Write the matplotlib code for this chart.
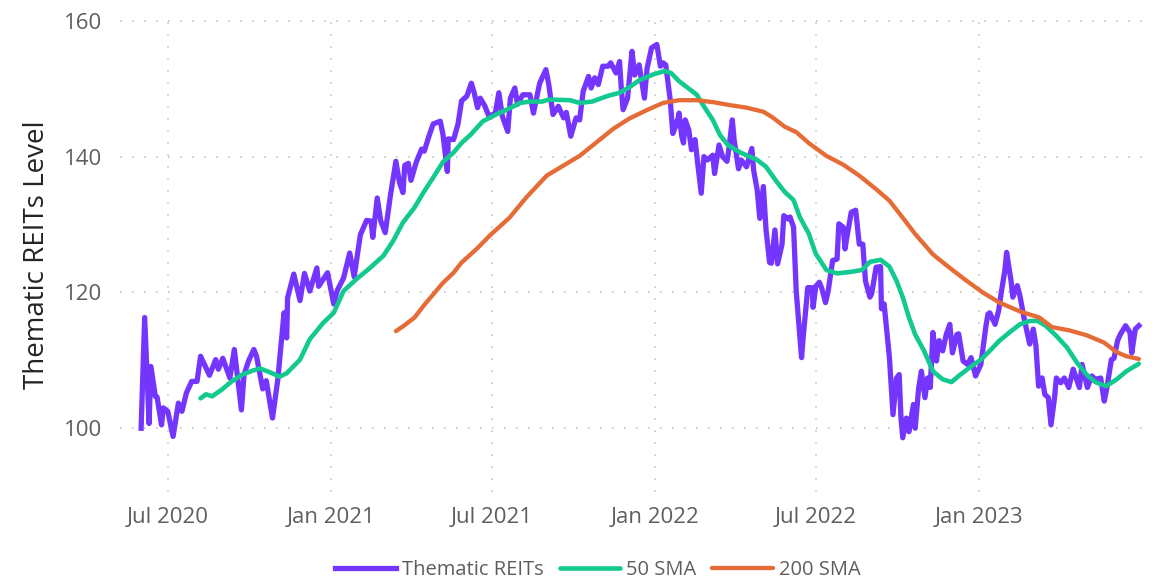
import matplotlib
matplotlib.use("Agg")
import matplotlib.pyplot as plt
import pandas as pd

# index level
reit_dates = [
    "2020-06-01", "2020-06-05", "2020-06-10", "2020-06-12", "2020-06-17", "2020-06-19",
    "2020-06-24", "2020-06-26", "2020-07-01", "2020-07-07", "2020-07-13", "2020-07-17",
    "2020-07-22", "2020-07-28", "2020-08-03", "2020-08-07", "2020-08-17", "2020-08-24",
    "2020-08-27", "2020-09-01", "2020-09-09", "2020-09-14", "2020-09-22", "2020-09-25",
    "2020-09-30", "2020-10-06", "2020-10-09", "2020-10-16", "2020-10-20", "2020-10-27",
    "2020-11-02", "2020-11-09", "2020-11-12", "2020-11-13", "2020-11-20", "2020-11-27",
    "2020-12-02", "2020-12-08", "2020-12-16", "2020-12-18", "2020-12-28", "2021-01-04",
    "2021-01-08", "2021-01-15", "2021-01-22", "2021-01-27", "2021-02-03", "2021-02-10",
    "2021-02-15", "2021-02-17", "2021-02-22", "2021-02-26", "2021-03-03", "2021-03-09",
    "2021-03-15", "2021-03-19", "2021-03-23", "2021-03-25", "2021-03-29", "2021-04-01",
    "2021-04-07", "2021-04-13", "2021-04-16", "2021-04-21", "2021-04-26", "2021-05-04",
    "2021-05-07", "2021-05-12", "2021-05-13", "2021-05-19", "2021-05-24", "2021-05-28",
    "2021-06-03", "2021-06-08", "2021-06-11", "2021-06-15", "2021-06-18", "2021-06-23",
    "2021-06-28", "2021-07-05", "2021-07-09", "2021-07-13", "2021-07-19", "2021-07-22",
    "2021-07-27", "2021-07-30", "2021-08-05", "2021-08-13", "2021-08-17", "2021-08-24",
    "2021-08-31", "2021-09-03", "2021-09-08", "2021-09-14", "2021-09-20", "2021-09-23",
    "2021-09-28", "2021-10-04", "2021-10-08", "2021-10-12", "2021-10-18", "2021-10-21",
    "2021-10-25", "2021-10-29", "2021-11-03", "2021-11-09", "2021-11-12", "2021-11-18",
    "2021-11-22", "2021-11-24", "2021-11-26", "2021-12-01", "2021-12-06", "2021-12-09",
    "2021-12-14", "2021-12-20", "2021-12-23", "2021-12-28", "2022-01-03", "2022-01-07",
    "2022-01-10", "2022-01-13", "2022-01-18", "2022-01-21", "2022-01-24", "2022-01-27",
    "2022-01-28", "2022-01-31", "2022-02-02", "2022-02-04", "2022-02-08", "2022-02-11",
    "2022-02-15", "2022-02-18", "2022-02-22", "2022-02-25", "2022-03-01", "2022-03-07",
    "2022-03-09", "2022-03-14", "2022-03-18", "2022-03-23", "2022-03-25", "2022-03-29",
    "2022-03-31", "2022-04-05", "2022-04-08", "2022-04-14", "2022-04-20", "2022-04-22",
    "2022-04-26", "2022-04-29", "2022-05-03", "2022-05-06", "2022-05-10", "2022-05-12",
    "2022-05-16", "2022-05-19", "2022-05-24", "2022-05-26", "2022-05-31", "2022-06-02",
    "2022-06-06", "2022-06-09", "2022-06-15", "2022-06-17", "2022-06-22", "2022-06-27",
    "2022-06-28", "2022-07-01", "2022-07-05", "2022-07-08", "2022-07-12", "2022-07-15",
    "2022-07-20", "2022-07-25", "2022-07-27", "2022-08-01", "2022-08-03", "2022-08-05",
    "2022-08-10", "2022-08-15", "2022-08-19", "2022-08-23", "2022-08-26", "2022-08-31",
    "2022-09-02", "2022-09-07", "2022-09-12", "2022-09-13", "2022-09-16", "2022-09-22",
    "2022-09-26", "2022-09-30", "2022-10-03", "2022-10-05", "2022-10-07", "2022-10-11",
    "2022-10-14", "2022-10-19", "2022-10-21", "2022-10-25", "2022-10-28", "2022-11-01",
    "2022-11-04", "2022-11-07", "2022-11-10", "2022-11-14", "2022-11-17", "2022-11-21",
    "2022-11-25", "2022-11-29", "2022-12-02", "2022-12-07", "2022-12-09", "2022-12-14",
    "2022-12-19", "2022-12-23", "2022-12-28", "2023-01-03", "2023-01-05", "2023-01-09",
    "2023-01-11", "2023-01-13", "2023-01-19", "2023-01-23", "2023-01-26", "2023-01-30",
    "2023-02-01", "2023-02-06", "2023-02-08", "2023-02-13", "2023-02-16", "2023-02-21",
    "2023-02-23", "2023-02-27", "2023-03-03", "2023-03-06", "2023-03-09", "2023-03-13",
    "2023-03-16", "2023-03-20", "2023-03-23", "2023-03-27", "2023-03-29", "2023-04-03",
    "2023-04-07", "2023-04-12", "2023-04-17", "2023-04-24", "2023-04-27", "2023-05-03",
    "2023-05-08", "2023-05-12", "2023-05-18", "2023-05-22", "2023-05-25", "2023-05-30",
    "2023-06-02", "2023-06-06", "2023-06-09", "2023-06-15", "2023-06-20", "2023-06-22",
    "2023-06-26", "2023-06-30",
]
reit_values = [
    100.0, 116.3, 100.7, 109.1, 104.7, 104.6,
    100.5, 103.0, 102.5, 98.8, 103.7, 102.5,
    105.2, 106.9, 106.9, 110.6, 107.8, 110.1,
    108.7, 110.3, 107.4, 111.6, 102.7, 107.9,
    109.9, 111.6, 110.6, 105.8, 107.0, 101.5,
    107.2, 117.0, 113.3, 119.2, 122.7, 118.8,
    122.8, 120.2, 123.6, 120.9, 122.9, 118.3,
    120.3, 122.1, 125.8, 122.3, 128.5, 130.6,
    130.5, 128.1, 133.9, 130.5, 128.8, 134.4,
    139.3, 136.2, 134.7, 138.7, 139.0, 136.5,
    139.2, 141.1, 140.8, 142.9, 144.8, 145.2,
    143.3, 137.8, 142.6, 142.5, 144.8, 148.2,
    148.9, 150.8, 149.5, 147.2, 148.6, 147.5,
    145.9, 146.4, 149.4, 145.9, 143.7, 148.6,
    150.1, 147.7, 149.1, 149.1, 146.4, 150.8,
    152.8, 150.8, 146.2, 147.4, 145.7, 146.5,
    143.0, 145.7, 145.4, 149.6, 151.8, 150.1,
    151.6, 150.6, 153.3, 153.3, 153.8, 152.3,
    154.0, 149.9, 146.9, 148.6, 155.5, 152.0,
    153.5, 148.6, 153.0, 156.0, 156.5, 153.3,
    153.8, 153.5, 148.4, 143.4, 144.4, 145.7,
    146.4, 143.0, 142.0, 145.4, 143.9, 141.0,
    142.5, 139.0, 134.6, 140.0, 139.5, 140.2,
    137.5, 141.7, 140.0, 139.3, 141.0, 145.4,
    142.5, 138.2, 139.5, 138.5, 141.2, 138.0,
    135.1, 130.9, 135.6, 129.2, 124.4, 124.3,
    129.2, 124.2, 127.1, 131.3, 130.8, 131.1,
    129.6, 120.2, 110.4, 113.6, 120.7, 120.7,
    117.8, 120.9, 121.5, 120.5, 118.5, 120.2,
    124.7, 124.9, 130.1, 129.6, 126.4, 128.1,
    131.8, 132.1, 127.1, 127.1, 121.7, 119.3,
    119.8, 123.7, 123.8, 117.6, 118.3, 110.4,
    102.0, 107.4, 107.9, 101.5, 98.6, 101.5,
    99.5, 103.5, 100.0, 106.0, 108.4, 104.5,
    107.4, 106.0, 114.1, 109.9, 112.9, 111.4,
    113.8, 115.3, 111.1, 113.8, 113.9, 109.9,
    109.4, 110.4, 107.7, 109.4, 111.4, 115.3,
    116.8, 117.0, 115.3, 117.3, 120.0, 123.2,
    125.9, 121.7, 119.3, 121.0, 119.5, 116.0,
    114.8, 112.4, 114.6, 112.2, 106.2, 107.4,
    105.0, 104.5, 100.5, 104.5, 107.4, 106.7,
    107.4, 106.0, 108.7, 106.0, 109.4, 106.0,
    107.7, 107.2, 107.4, 104.0, 106.0, 110.1,
    110.3, 112.9, 113.8, 115.1, 114.1, 111.1,
    114.6, 115.1,
]

# 50-day simple moving average
sma50_dates = [
    "2020-08-07", "2020-08-13", "2020-08-20", "2020-08-31", "2020-09-11", "2020-09-23",
    "2020-10-05", "2020-10-13", "2020-10-23", "2020-11-04", "2020-11-12", "2020-11-27",
    "2020-12-08", "2020-12-23", "2021-01-04", "2021-01-15", "2021-01-29", "2021-02-12",
    "2021-03-01", "2021-03-12", "2021-03-23", "2021-04-05", "2021-04-15", "2021-04-26",
    "2021-05-07", "2021-05-19", "2021-05-28", "2021-06-07", "2021-06-21", "2021-07-06",
    "2021-07-21", "2021-08-02", "2021-08-13", "2021-08-27", "2021-09-03", "2021-09-27",
    "2021-10-08", "2021-10-22", "2021-11-08", "2021-11-22", "2021-12-03", "2021-12-15",
    "2021-12-30", "2022-01-12", "2022-01-19", "2022-01-28", "2022-02-09", "2022-02-17",
    "2022-02-24", "2022-03-07", "2022-03-15", "2022-03-24", "2022-04-07", "2022-04-26",
    "2022-05-06", "2022-05-18", "2022-05-27", "2022-06-06", "2022-06-13", "2022-06-23",
    "2022-07-01", "2022-07-13", "2022-07-25", "2022-08-08", "2022-08-22", "2022-08-31",
    "2022-09-12", "2022-09-22", "2022-09-30", "2022-10-07", "2022-10-14", "2022-10-21",
    "2022-10-31", "2022-11-10", "2022-11-21", "2022-12-01", "2022-12-09", "2022-12-21",
    "2023-01-03", "2023-01-13", "2023-01-24", "2023-02-06", "2023-02-16", "2023-02-27",
    "2023-03-08", "2023-03-17", "2023-03-29", "2023-04-10", "2023-04-21", "2023-05-02",
    "2023-05-12", "2023-05-24", "2023-06-05", "2023-06-16", "2023-06-30",
]
sma50_values = [
    104.4, 105.0, 104.7, 105.7, 106.9, 107.9,
    108.5, 108.8, 108.3, 107.6, 108.1, 110.1,
    113.1, 115.5, 117.0, 120.2, 121.9, 123.4,
    125.4, 127.6, 130.3, 132.5, 134.7, 136.9,
    139.2, 140.6, 142.0, 143.2, 145.2, 146.2,
    147.1, 147.9, 148.1, 148.1, 148.4, 148.3,
    147.9, 148.1, 148.9, 149.4, 150.2, 151.3,
    152.1, 152.6, 152.3, 151.1, 149.9, 149.1,
    147.6, 145.4, 143.2, 141.7, 140.6, 139.5,
    138.5, 136.3, 134.8, 133.6, 131.1, 128.7,
    125.7, 123.3, 122.8, 123.0, 123.3, 124.5,
    124.8, 123.8, 121.7, 119.3, 116.3, 113.8,
    111.4, 108.4, 107.2, 106.8, 107.7, 108.9,
    110.1, 111.4, 112.9, 114.3, 115.3, 115.8,
    115.8, 115.1, 113.6, 111.9, 109.7, 107.9,
    106.8, 106.2, 107.2, 108.4, 109.5,
]

# 200-day simple moving average
sma200_dates = [
    "2021-03-15", "2021-03-23", "2021-04-05", "2021-04-15", "2021-04-26", "2021-05-07",
    "2021-05-19", "2021-05-28", "2021-06-14", "2021-06-29", "2021-07-21", "2021-08-09",
    "2021-09-01", "2021-09-20", "2021-10-08", "2021-10-27", "2021-11-15", "2021-12-03",
    "2021-12-22", "2022-01-10", "2022-01-28", "2022-02-17", "2022-03-08", "2022-03-25",
    "2022-04-14", "2022-05-03", "2022-05-13", "2022-05-27", "2022-06-09", "2022-06-24",
    "2022-07-13", "2022-08-01", "2022-08-19", "2022-09-07", "2022-09-22", "2022-10-07",
    "2022-10-21", "2022-11-10", "2022-11-29", "2022-12-16", "2023-01-05", "2023-01-24",
    "2023-02-16", "2023-03-10", "2023-03-24", "2023-04-13", "2023-05-02", "2023-05-22",
    "2023-06-05", "2023-06-16", "2023-06-30",
]
sma200_values = [
    114.3, 115.0, 116.3, 118.0, 119.7, 121.4,
    122.9, 124.4, 126.4, 128.4, 131.0, 134.0,
    137.2, 138.7, 140.1, 142.1, 144.1, 145.6,
    146.8, 147.9, 148.3, 148.3, 148.0, 147.6,
    147.2, 146.6, 145.8, 144.4, 143.6, 141.9,
    140.1, 138.8, 137.2, 135.2, 133.5, 131.0,
    128.6, 125.6, 123.6, 121.9, 120.0, 118.5,
    117.2, 116.3, 114.9, 114.4, 113.7, 112.6,
    111.2, 110.6, 110.2,
]

tick_dates = ["2020-07-01", "2021-01-01", "2021-07-01", "2022-01-01", "2022-07-01", "2023-01-01"]
tick_labels = ["Jul 2020", "Jan 2021", "Jul 2021", "Jan 2022", "Jul 2022", "Jan 2023"]
y_ticks = [100, 120, 140, 160]

plt.rcParams["font.family"] = ["Open Sans", "DejaVu Sans"]

fig = plt.figure(figsize=(11.52, 5.81), dpi=100)
ax = fig.add_axes([0.104, 0.153, 0.890, 0.816])

ax.plot(pd.to_datetime(reit_dates), reit_values, color="#7436FF", lw=3.8,
        solid_joinstyle="round", label="Thematic REITs", zorder=3)
ax.plot(pd.to_datetime(sma50_dates), sma50_values, color="#12C98F", lw=3.3,
        solid_capstyle="round", label="50 SMA", zorder=4)
ax.plot(pd.to_datetime(sma200_dates), sma200_values, color="#E66C37", lw=3.1,
        solid_capstyle="round", label="200 SMA", zorder=5)

ax.set_xlim(pd.Timestamp("2020-05-08"), pd.Timestamp("2023-07-07"))
ax.set_ylim(90.6, 160.4)
ax.set_xticks(pd.to_datetime(tick_dates))
ax.set_xticklabels(tick_labels)
ax.set_yticks(y_ticks)

for s in ax.spines.values():
    s.set_visible(False)
ax.tick_params(length=0, labelsize=16, labelcolor="#605E5C")
ax.tick_params(axis="y", pad=13)
ax.tick_params(axis="x", pad=11)
ax.grid(True, color="#C8C8C8", lw=1.2, linestyle=(0, (1, 6.2)))
ax.set_axisbelow(True)

ax.set_ylabel("Thematic REITs Level", fontsize=20, color="#252423", labelpad=9)

fig.legend(loc="lower center", bbox_to_anchor=(0.519, -0.03), ncol=3, frameon=False,
           fontsize=14.5, labelcolor="#605E5C", handlelength=3.0, handletextpad=0.3,
           columnspacing=0.8)

fig.savefig("out.png", dpi=100)
